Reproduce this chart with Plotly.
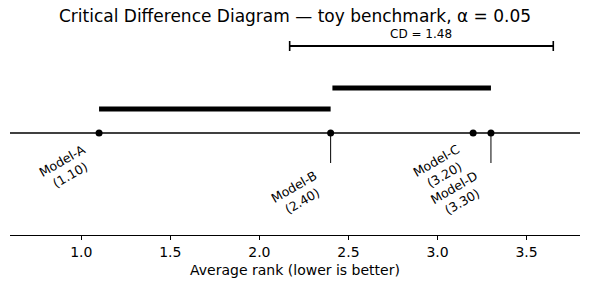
import plotly.graph_objects as go

models = ["Model-A", "Model-B", "Model-C", "Model-D"]
ranks = [1.10, 2.40, 3.20, 3.30]
cliques = [(1.10, 2.40), (2.41, 3.30)]
cd_value = 1.48
cd_start = 2.17
tick_vals = [1.0, 1.5, 2.0, 2.5, 3.0, 3.5]
tick_text = ["1.0", "1.5", "2.0", "2.5", "3.0", "3.5"]

X0, X1 = 0.6, 3.8
Y_LINE = 102
Y_CD = 189
Y_CLIQUE = [126, 147]
Y_TICK_END = 72

FONT = "DejaVu Sans"
fig = go.Figure()

# main axis line
fig.add_trace(go.Scatter(x=[X0, X1], y=[Y_LINE, Y_LINE], mode="lines",
                         line=dict(color="black", width=1.6), hoverinfo="skip", showlegend=False))
# model points
fig.add_trace(go.Scatter(x=ranks, y=[Y_LINE] * len(ranks), mode="markers",
                         marker=dict(color="black", size=7), showlegend=False))
# clique bars
for (a, b), yl in zip(cliques, Y_CLIQUE):
    fig.add_trace(go.Scatter(x=[a, b], y=[yl, yl], mode="lines",
                             line=dict(color="black", width=5), showlegend=False))
# CD bar
fig.add_trace(go.Scatter(x=[cd_start, cd_start + cd_value], y=[Y_CD, Y_CD], mode="lines",
                         line=dict(color="black", width=2), showlegend=False))
for xe in [cd_start, cd_start + cd_value]:
    fig.add_trace(go.Scatter(x=[xe, xe], y=[Y_CD - 5, Y_CD + 5], mode="lines",
                             line=dict(color="black", width=1.6), showlegend=False))
fig.add_annotation(x=cd_start + cd_value / 2, y=Y_CD + 3, text=f"CD = {cd_value:.2f}",
                   showarrow=False, yanchor="bottom", font=dict(size=12, color="black", family=FONT))

# labels: alternate short/long stems
for i, (m, r) in enumerate(zip(models, ranks)):
    long_stem = i % 2 == 1
    if long_stem:
        fig.add_trace(go.Scatter(x=[r, r], y=[Y_LINE, Y_TICK_END], mode="lines",
                                 line=dict(color="black", width=1), showlegend=False))
        ya = Y_TICK_END - 2
    else:
        ya = Y_LINE - 6
    fig.add_annotation(x=r, y=ya, text=f"{m}<br>({r:.2f})", showarrow=False,
                       xanchor="right", yanchor="top", textangle=-30, align="center",
                       font=dict(size=12.5, color="black", family=FONT))

fig.update_layout(
    width=590, height=289,
    margin=dict(l=10, r=10, t=30, b=54),
    plot_bgcolor="white", paper_bgcolor="white",
    title=dict(text="Critical Difference Diagram — toy benchmark, α = 0.05",
               x=0.5, xanchor="center", y=0.965, yanchor="top",
               font=dict(size=17, color="black", family=FONT)),
    xaxis=dict(range=[X0, X1], tickvals=tick_vals, ticktext=tick_text,
               showgrid=False, zeroline=False, showline=True, linecolor="black", linewidth=1,
               ticks="outside", ticklen=4, tickcolor="black",
               tickfont=dict(size=14, color="black", family=FONT),
               title=dict(text="Average rank (lower is better)", standoff=6,
                          font=dict(size=14, color="black", family=FONT))),
    yaxis=dict(range=[0, 205], visible=False, showgrid=False, zeroline=False),
)

fig.write_html("out.html")
